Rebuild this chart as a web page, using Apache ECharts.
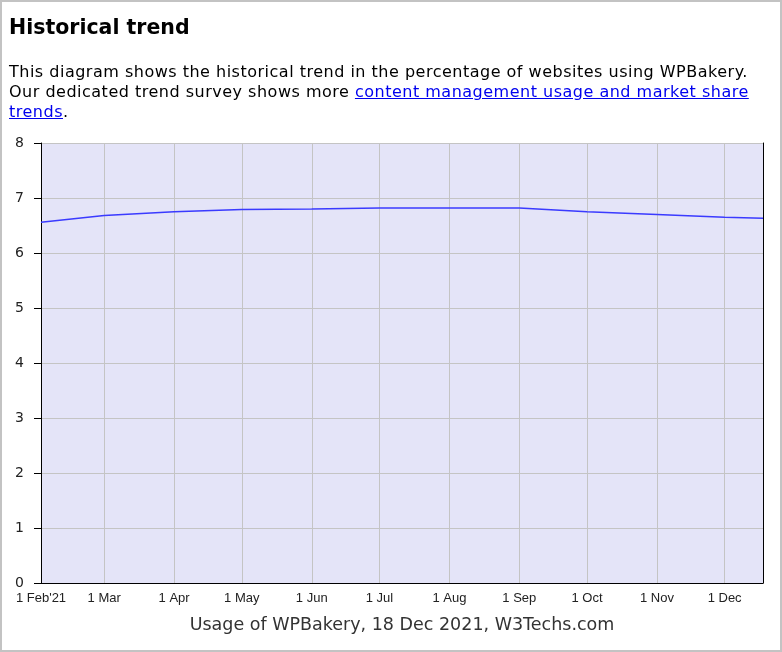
<!DOCTYPE html>
<html>
<head>
<meta charset="utf-8">
<script src="https://cdn.jsdelivr.net/npm/echarts@6/dist/echarts.min.js"></script>
<style>
  html, body { margin: 0; padding: 0; background: #fff; }
  .page {
    position: relative;
    width: 782px;
    height: 652px;
    border: 2px solid #c3c3c3;
    box-sizing: border-box;
    overflow: hidden;
  }
  .chart {
    position: absolute;
    left: -2px;
    top: -2px;
    width: 782px;
    height: 652px;
  }
  h2 {
    position: absolute;
    left: 7px;
    top: 12px;
    margin: 0;
    font: bold 20.5px/26px "DejaVu Sans", sans-serif;
    color: #000;
  }
  p {
    position: absolute;
    left: 7px;
    top: 60px;
    margin: 0;
    font: 16px/20px "DejaVu Sans", sans-serif;
    letter-spacing: 0.5px;
    color: #000;
    white-space: nowrap;
  }
  a { color: #0000ee; }
</style>
</head>
<body>
<div class="page">
  <div id="chart" class="chart"></div>
  <h2>Historical trend</h2>
  <p>This diagram shows the historical trend in the percentage of websites using WPBakery.<br>
  Our dedicated trend survey shows more <a href="#">content management usage and market share</a><br><a href="#">trends</a>.</p>
</div>
<script>
const dates = ['2021-02-01', '2021-03-01', '2021-04-01', '2021-05-01', '2021-06-01', '2021-07-01',
  '2021-08-01', '2021-09-01', '2021-10-01', '2021-11-01', '2021-12-01', '2021-12-18']
const usage = [6.56, 6.68, 6.75, 6.79, 6.80, 6.82, 6.82, 6.82, 6.75, 6.70, 6.65, 6.63]
const monthNames = ['Jan', 'Feb', 'Mar', 'Apr', 'May', 'Jun', 'Jul', 'Aug', 'Sep', 'Oct', 'Nov', 'Dec']
const caption = 'Usage of WPBakery, 18 Dec 2021, W3Techs.com'

const chart = echarts.init(document.getElementById('chart'))

const option = {
  animation: false,
  grid: {
    left: 41,
    right: 19,
    top: 143,
    bottom: 69,
    show: true,
    backgroundColor: '#e4e4f8',
    borderWidth: 0
  },
  xAxis: {
    type: 'time',
    min: dates[0],
    max: dates[dates.length - 1],
    minInterval: 28 * 24 * 3600 * 1000,
    splitNumber: 11,
    name: caption,
    nameLocation: 'middle',
    nameGap: 33,
    nameTextStyle: {
      fontFamily: 'DejaVu Sans',
      fontSize: 17.5,
      color: '#333'
    },
    axisLine: { lineStyle: { color: '#000', width: 1 } },
    axisTick: { show: false },
    axisLabel: {
      fontFamily: 'Liberation Sans',
      fontSize: 13,
      color: '#222',
      margin: 9,
      showMaxLabel: false,
      formatter: (val) => {
        const d = new Date(val)
        if (d.getDate() !== 1) return ''
        let s = '1 ' + monthNames[d.getMonth()]
        if (d.getMonth() === 1) s += "'21"
        return s
      }
    },
    splitLine: { show: true, lineStyle: { color: '#c4c4c4', width: 1 } }
  },
  yAxis: [
    {
      type: 'value',
      min: 0,
      max: 8,
      interval: 1,
      axisLine: { show: true, lineStyle: { color: '#000', width: 1 } },
      axisTick: { show: true, length: 7, lineStyle: { color: '#000' } },
      axisLabel: {
        fontFamily: 'DejaVu Sans',
        fontSize: 14,
        color: '#222',
        margin: 17,
        padding: [2, 0, 0, 0]
      },
      splitLine: { lineStyle: { color: '#c4c4c4', width: 1 } }
    },
    {
      type: 'value',
      position: 'right',
      min: 0,
      max: 8,
      interval: 1,
      axisLine: { show: true, lineStyle: { color: '#000', width: 1 } },
      axisTick: { show: false },
      axisLabel: { show: false },
      splitLine: { show: false }
    }
  ],
  series: [
    {
      type: 'line',
      data: dates.map((d, i) => [d, usage[i]]),
      symbol: 'none',
      lineStyle: { color: '#3a3aff', width: 1.5 }
    }
  ]
}

chart.setOption(option)
</script>
</body>
</html>
